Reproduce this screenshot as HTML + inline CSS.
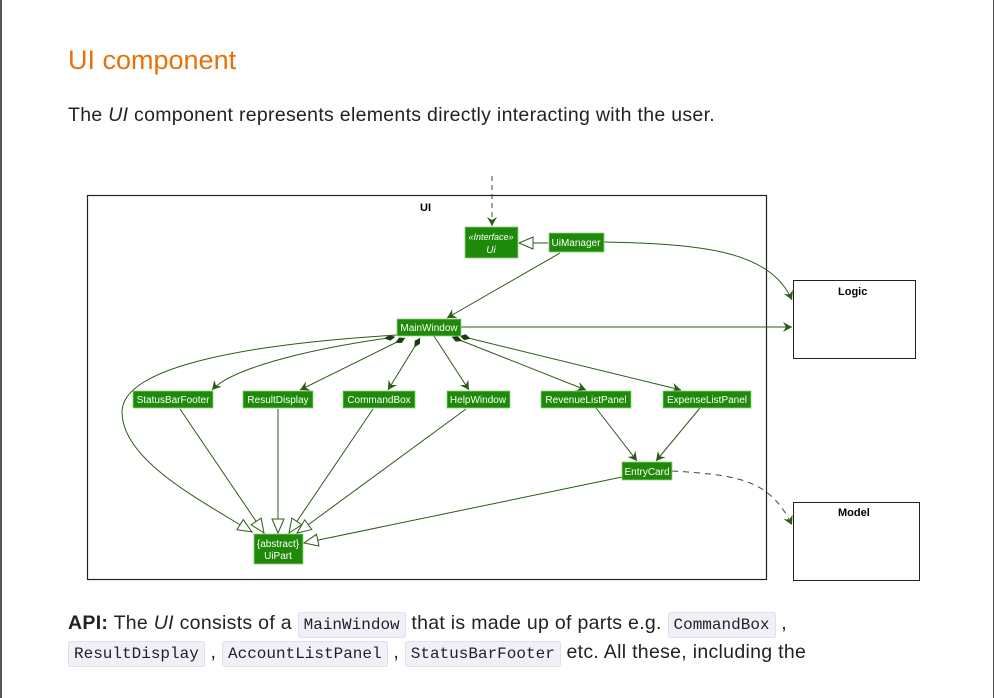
<!DOCTYPE html>
<html><head><style>
body{margin:0;width:994px;height:654px;overflow:hidden;background:#fff;font-family:"Liberation Sans","DejaVu Sans",sans-serif;position:relative}
.frame{position:absolute;left:0;top:-2px;width:991px;height:700px;border-left:2px solid #555;border-right:2px solid #555}
h2{position:absolute;left:68px;top:45px;margin:0;font-weight:normal;font-size:27px;color:#e8710a}
p{position:absolute;left:68px;margin:0;font-size:19.5px;color:#222;letter-spacing:0.3px;white-space:nowrap}
code{font-family:"Liberation Mono",monospace;font-size:16px;background:#f0f0f8;border:1px solid #e0e0ea;border-radius:3px;padding:3px 5px;letter-spacing:0}
</style></head><body>
<div class="frame"></div>
<h2>UI component</h2>
<p style="top:104px">The <i>UI</i> component represents elements directly interacting with the user.</p>
<svg style="position:absolute;left:0;top:0" width="994" height="654" font-family="Liberation Sans,sans-serif">
<defs>
<marker id="a" markerWidth="10" markerHeight="10" refX="9" refY="5" orient="auto" markerUnits="userSpaceOnUse"><path d="M0,0 L9,5 L0,10 L3,5z" fill="#2d5a1a"/></marker>
<marker id="t" markerWidth="16" markerHeight="14" refX="15" refY="7" orient="auto" markerUnits="userSpaceOnUse"><path d="M1,1 L15,7 L1,13z" fill="#fff" stroke="#2d5a1a"/></marker>
<marker id="d" markerWidth="14" markerHeight="8" refX="1" refY="4" orient="auto" markerUnits="userSpaceOnUse"><path d="M1,4 L6,1 L12,4 L6,7z" fill="#1a3a10"/></marker>
</defs>
<rect x="87.5" y="195.5" width="679" height="384" fill="none" stroke="#222" stroke-width="1.2"/>
<text x="420" y="211" font-size="11" font-weight="bold">UI</text>
<rect x="793.5" y="280.5" width="122" height="78" fill="#fff" stroke="#222"/>
<text x="838" y="295" font-size="11" font-weight="bold">Logic</text>
<rect x="793.5" y="502.5" width="126" height="78" fill="#fff" stroke="#222"/>
<text x="838" y="516" font-size="11" font-weight="bold">Model</text>
<g fill="none" stroke="#2d5a1a" stroke-width="1">
<path d="M492,176 V226" stroke-dasharray="5,4" marker-end="url(#a)"/>
<path d="M548,243 H519" marker-end="url(#t)"/>
<path d="M604,242 C700,244 770,250 792,300" marker-end="url(#a)"/>
<path d="M560,253 L447,318" marker-end="url(#a)"/>
<path d="M461,327 H792" marker-end="url(#a)"/>
<path d="M395,337 C300,350 230,370 212,390" marker-start="url(#d)" marker-end="url(#a)"/>
<path d="M405,338 L300,390" marker-start="url(#d)" marker-end="url(#a)"/>
<path d="M420,338 L388,390" marker-start="url(#d)" marker-end="url(#a)"/>
<path d="M434,336 L469,390" marker-end="url(#a)"/>
<path d="M452,337 L586,390" marker-start="url(#d)" marker-end="url(#a)"/>
<path d="M460,336 L681,390" marker-start="url(#d)" marker-end="url(#a)"/>
<path d="M596,408 L637,461" marker-end="url(#a)"/>
<path d="M700,408 L656,461" marker-end="url(#a)"/>
<path d="M672,471 C740,475 770,480 792,525" stroke-dasharray="6,5" marker-end="url(#a)"/>
<path d="M397,335 C230,345 122,370 122,412 C122,460 200,500 252,532" marker-end="url(#t)"/>
<path d="M180,409 L264,533" marker-end="url(#t)"/>
<path d="M278,409 V533" marker-end="url(#t)"/>
<path d="M373,409 L289,533" marker-end="url(#t)"/>
<path d="M466,409 L297,533" marker-end="url(#t)"/>
<path d="M622,477 L304,543" marker-end="url(#t)"/>
</g>
<g fill="#1f8a0a" stroke="#8fcf7f" stroke-width="0.8">
<rect x="465" y="227" width="53" height="31"/>
<rect x="549" y="233" width="55" height="19"/>
<rect x="397" y="319" width="64" height="17"/>
<rect x="133" y="391" width="80" height="17"/>
<rect x="243" y="391" width="70" height="17"/>
<rect x="343" y="391" width="72" height="17"/>
<rect x="447" y="391" width="63" height="17"/>
<rect x="541" y="391" width="90" height="17"/>
<rect x="663" y="391" width="88" height="17"/>
<rect x="622" y="462" width="50" height="18"/>
<rect x="254" y="534" width="49" height="30"/>
</g>
<g fill="#fff" font-size="10" text-anchor="middle">
<text x="491" y="240" font-style="italic" font-size="9">«Interface»</text>
<text x="491" y="253" font-style="italic">Ui</text>
<text x="576" y="246">UiManager</text>
<text x="429" y="331">MainWindow</text>
<text x="173" y="403">StatusBarFooter</text>
<text x="278" y="403">ResultDisplay</text>
<text x="379" y="403">CommandBox</text>
<text x="478" y="403">HelpWindow</text>
<text x="586" y="403">RevenueListPanel</text>
<text x="707" y="403">ExpenseListPanel</text>
<text x="647" y="475">EntryCard</text>
<text x="278" y="547">{abstract}</text>
<text x="278" y="559">UiPart</text>
</g>
</svg>
<p style="top:612px"><b>API:</b> The <i>UI</i> consists of a <code>MainWindow</code> that is made up of parts e.g. <code>CommandBox</code> ,</p>
<p style="top:641px"><code>ResultDisplay</code> , <code>AccountListPanel</code> , <code>StatusBarFooter</code> etc. All these, including the</p>
</body></html>
